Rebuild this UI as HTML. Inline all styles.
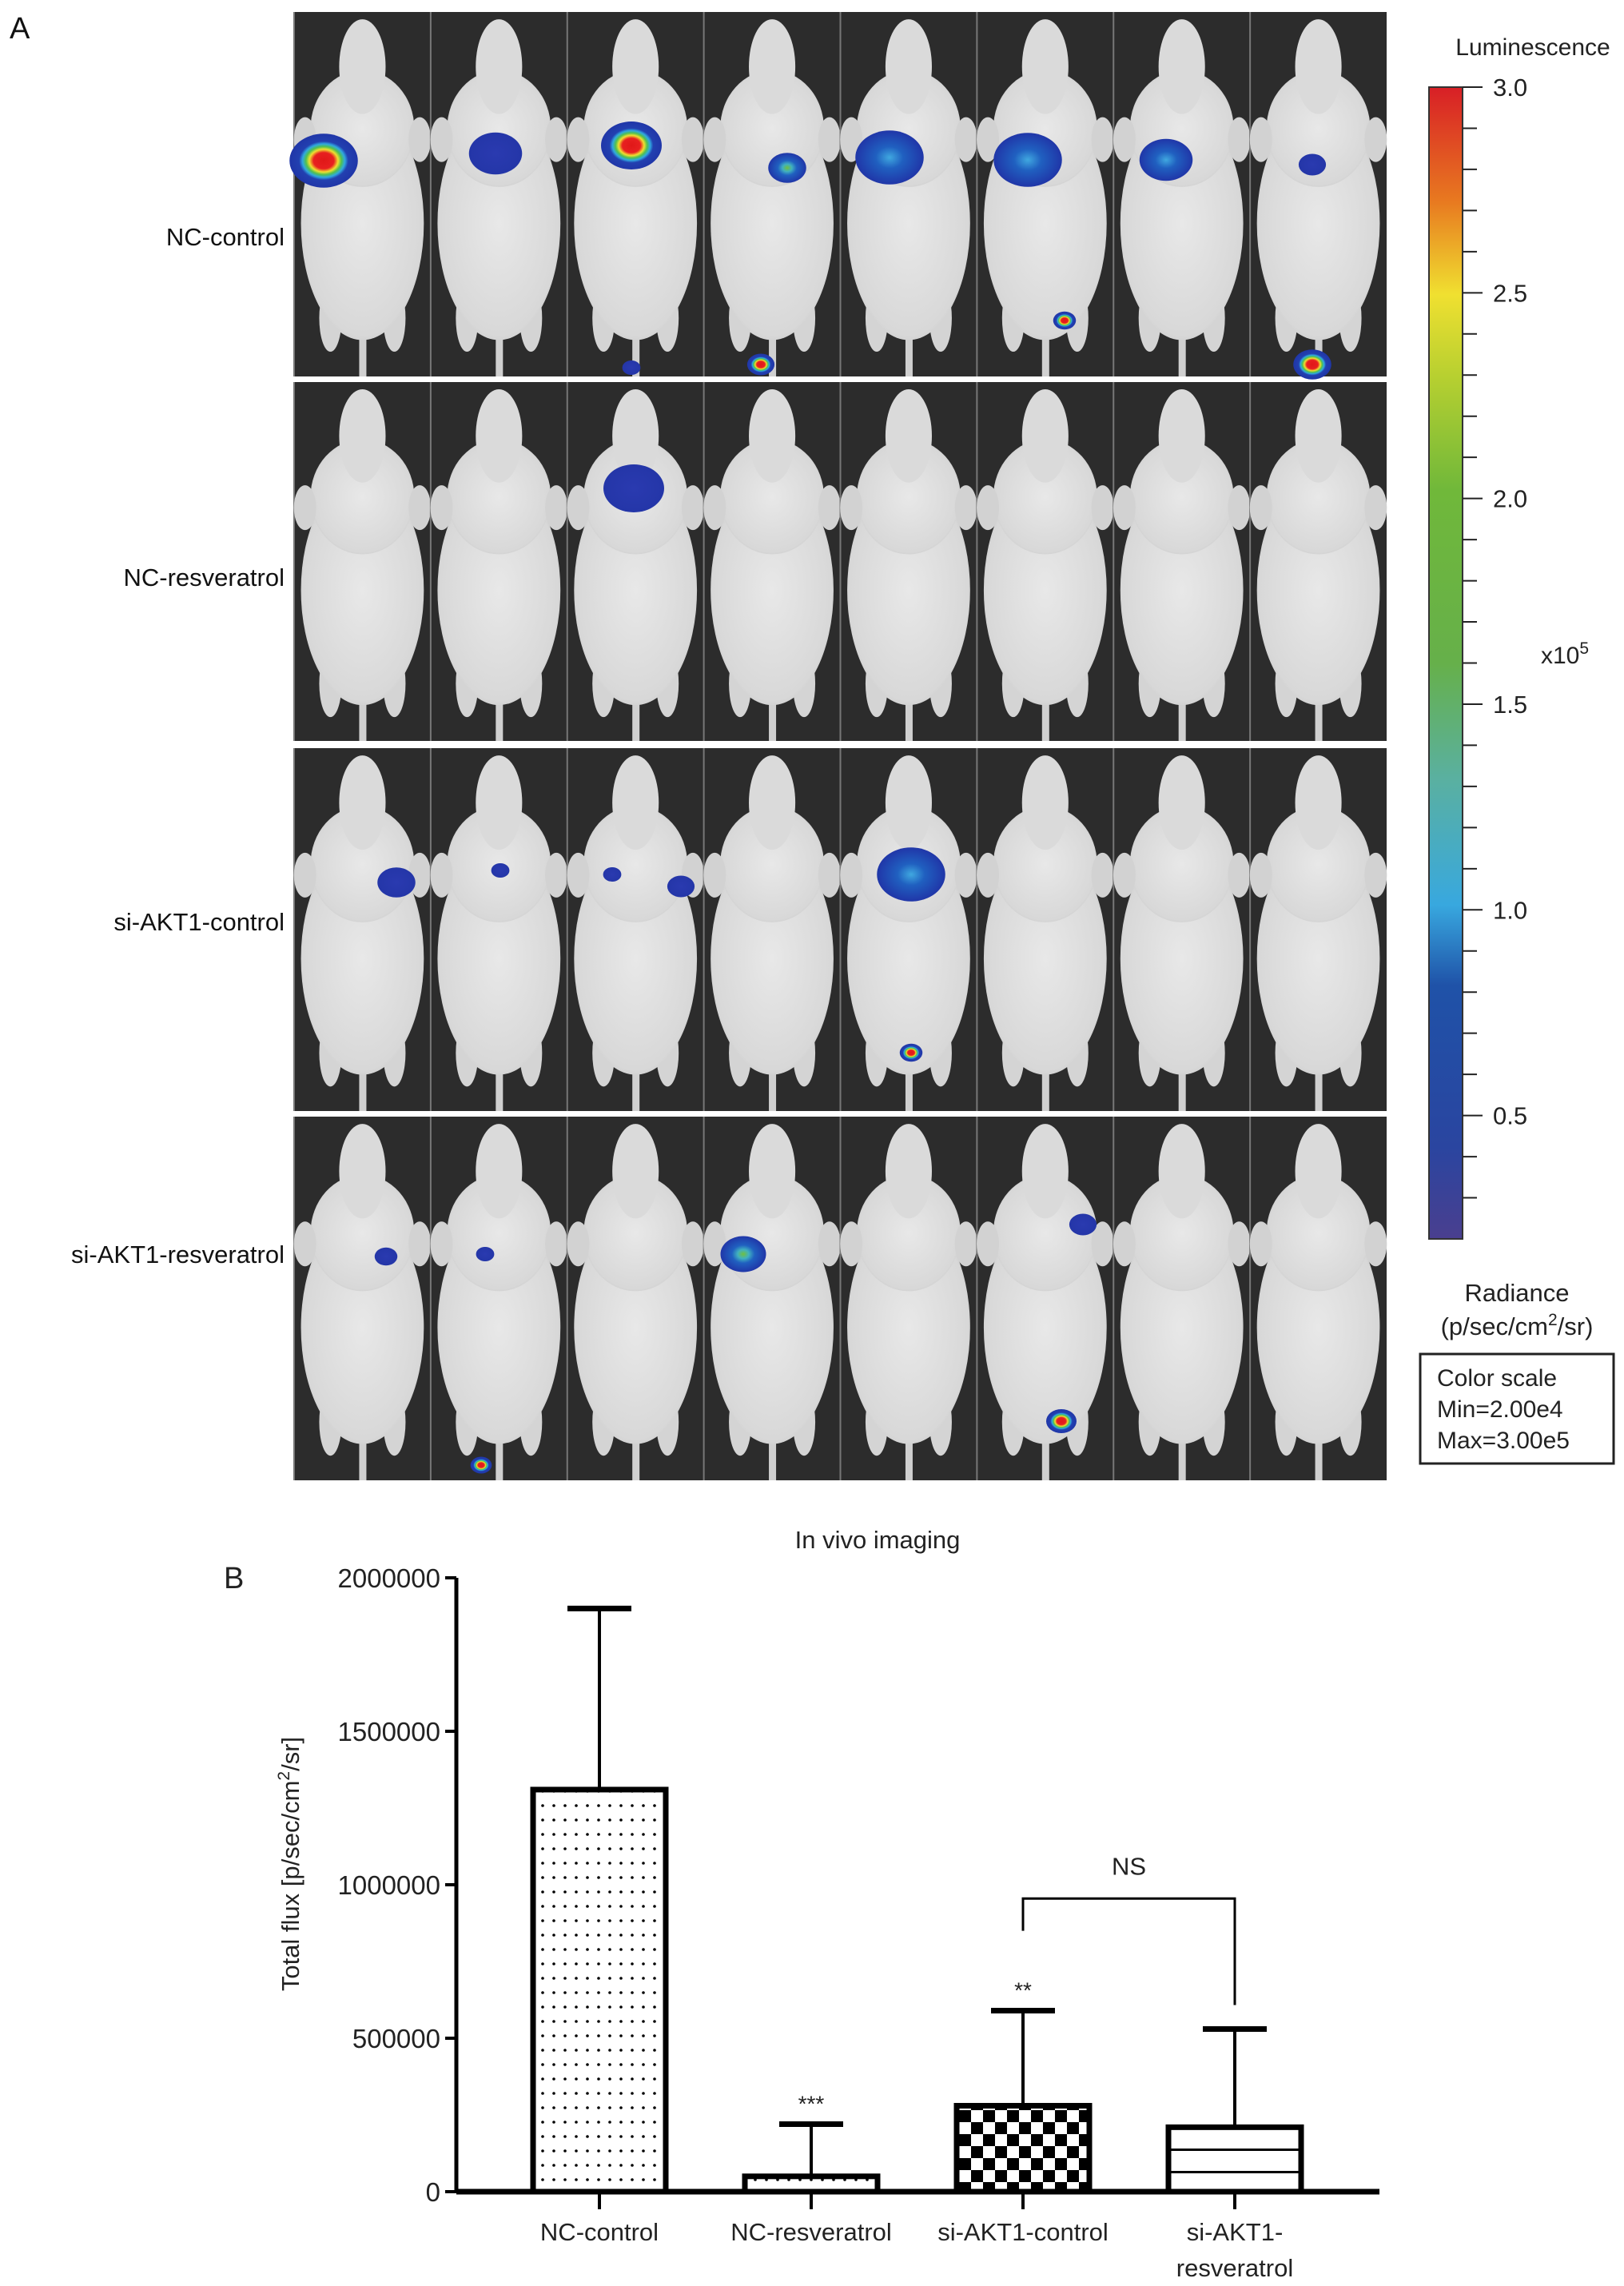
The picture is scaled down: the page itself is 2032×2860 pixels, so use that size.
<!DOCTYPE html>
<html><head><meta charset="utf-8">
<style>
html,body{margin:0;padding:0;background:#fff;}
body{width:2032px;height:2860px;position:relative;overflow:hidden;font-family:"Liberation Sans",sans-serif;}
svg{position:absolute;left:0;top:0;}
</style></head>
<body>
<svg id="fig" width="2032" height="2860" viewBox="0 0 2032 2860" xmlns="http://www.w3.org/2000/svg">
<defs>
<linearGradient id="cbar" x1="0" y1="1" x2="0" y2="0">
<stop offset="0" stop-color="#4a3f8f"/><stop offset="0.08" stop-color="#2a45a0"/>
<stop offset="0.22" stop-color="#1f52a8"/><stop offset="0.29" stop-color="#38a8df"/>
<stop offset="0.4" stop-color="#5ab0a0"/><stop offset="0.5" stop-color="#66b04a"/>
<stop offset="0.65" stop-color="#70b83a"/><stop offset="0.75" stop-color="#b8d030"/>
<stop offset="0.82" stop-color="#f0e030"/><stop offset="0.9" stop-color="#e87a20"/>
<stop offset="1" stop-color="#d81f26"/>
</linearGradient>
<radialGradient id="hot"><stop offset="0" stop-color="#e01818"/><stop offset="0.3" stop-color="#e82020"/><stop offset="0.42" stop-color="#f0e030"/><stop offset="0.52" stop-color="#50c050"/><stop offset="0.62" stop-color="#30a8e0"/><stop offset="0.72" stop-color="#2240b0"/><stop offset="1" stop-color="#2036a8"/></radialGradient>
<radialGradient id="green"><stop offset="0" stop-color="#70c040"/><stop offset="0.25" stop-color="#40b0c0"/><stop offset="0.5" stop-color="#2060c0"/><stop offset="1" stop-color="#2036a8"/></radialGradient>
<radialGradient id="cyan"><stop offset="0" stop-color="#40a8e0"/><stop offset="0.4" stop-color="#2060c0"/><stop offset="1" stop-color="#2036a8"/></radialGradient>
<radialGradient id="blue"><stop offset="0" stop-color="#2a3ab0"/><stop offset="1" stop-color="#2436a8"/></radialGradient>
<radialGradient id="skin" cx="0.5" cy="0.5" r="0.6"><stop offset="0" stop-color="#e8e8e8"/><stop offset="0.8" stop-color="#d8d8d8"/><stop offset="1" stop-color="#bcbcbc"/></radialGradient>
<pattern id="pDots" width="14" height="18" patternUnits="userSpaceOnUse"><rect width="14" height="18" fill="#fff"/><circle cx="7" cy="9" r="1.8" fill="#000"/></pattern>
<pattern id="pChk" width="30" height="30" patternUnits="userSpaceOnUse"><rect width="30" height="30" fill="#fff"/><rect width="15" height="15" fill="#000"/><rect x="15" y="15" width="15" height="15" fill="#000"/></pattern>
<pattern id="pLines" width="20" height="28" patternUnits="userSpaceOnUse"><rect width="20" height="28" fill="#fff"/><rect y="0" width="20" height="3" fill="#000"/></pattern>
</defs>
<g id="panelA"></g>
<g id="colorbar"></g>
<g id="chart"></g>
</svg>
<script>
// ---------- Panel A (images) ----------
const groups = ["NC-control","NC-resveratrol","si-AKT1-control","si-AKT1-resveratrol"];
const rowTops = [15, 478, 936, 1397];
const rowBottoms = [471, 927, 1390, 1852];
const labelY = [296, 722, 1153, 1569];
const blobX = [405,620,790,985,1113,1286,1459,1642,790,952,1332,1642,793,496,626,766,852,1140,1140,483,607,930,1355,602,1328];
const blobY = [201,192,182,210,197,200,200,206,460,456,401,456,611,1104,1089,1094,1109,1094,1317,1572,1569,1569,1532,1833,1778];
const blobR = [45,35,40,25,45,45,35,18,12,18,15,25,40,25,12,12,18,45,15,15,12,30,18,14,20];
const blobT = ["hot","blue","hot","green","cyan","cyan","cyan","blue","blue","hot","hot","hot","blue","blue","blue","blue","blue","cyan","hot","blue","blue","green","blue","hot","hot"];
const NS="http://www.w3.org/2000/svg";
function mk(tag, attrs, parent){const e=document.createElementNS(NS,tag);for(const k in attrs)e.setAttribute(k,attrs[k]);parent.appendChild(e);return e;}
const A=document.getElementById('panelA');
const L=368,R=1735,cellW=(R-L)/8;
groups.forEach((g,ri)=>{
  const t=rowTops[ri],b=rowBottoms[ri],h=b-t;
  const bg=mk('rect',{x:L,y:t,width:R-L,height:h,fill:'#2c2c2c'},A);
  
  
  for(let c=0;c<8;c++){
    const cx=L+cellW*(c+0.5);
    const m=mk('g',{},A);
    
    
    mk('line',{x1:L+cellW*c,y1:t,x2:L+cellW*c,y2:b,stroke:'#777','stroke-width':2},m);
    mk('rect',{x:cx-4,y:t+h*0.8,width:9,height:h*0.2,fill:'#d0d0d0'},m);
    mk('ellipse',{cx:cx-40,cy:t+h*0.84,rx:14,ry:42,fill:'#d4d4d4'},m);
    mk('ellipse',{cx:cx+40,cy:t+h*0.84,rx:14,ry:42,fill:'#d4d4d4'},m);
    mk('ellipse',{cx:cx,cy:t+h*0.58,rx:cellW*0.45,ry:h*0.32,fill:'url(#skin)'},m);
    mk('ellipse',{cx:cx,cy:t+h*0.32,rx:cellW*0.38,ry:h*0.16,fill:'url(#skin)'},m);
    mk('ellipse',{cx:cx,cy:t+h*0.15,rx:cellW*0.17,ry:h*0.13,fill:'#dadada'},m);
    mk('ellipse',{cx:cx-cellW*0.42,cy:t+h*0.35,rx:14,ry:28,fill:'#d2d2d2'},m);
    mk('ellipse',{cx:cx+cellW*0.42,cy:t+h*0.35,rx:14,ry:28,fill:'#d2d2d2'},m);
  }
  const lab=mk('text',{x:356,y:labelY[ri]+11,'text-anchor':'end','font-size':31,fill:'#111'},A);
  lab.textContent=g;
  
  
  if(ri>0){mk('rect',{x:L,y:rowBottoms[ri-1],width:R-L,height:t-rowBottoms[ri-1],fill:'#fff'},A);}
});
blobX.forEach((x,i)=>{
  const bl=mk('ellipse',{cx:x,cy:blobY[i],rx:blobR[i]*0.95,ry:blobR[i]*0.75,fill:'url(#'+blobT[i]+')'},A);
  
  
});
const lA=mk('text',{x:12,y:48,'font-size':38,fill:'#111'},A);lA.textContent='A';



// ---------- Colorbar ----------
const cbTicks=["0.5","1.0","1.5","2.0","2.5","3.0"];
const cbVals=[0.5,1.0,1.5,2.0,2.5,3.0];
const CB=document.getElementById('colorbar');
const cbTop=109,cbBot=1550,cbMin=0.2,cbMax=3.0;
const cy=v=>cbBot-(v-cbMin)/(cbMax-cbMin)*(cbBot-cbTop);
const cbr=mk('rect',{x:1788,y:cbTop,width:42,height:cbBot-cbTop,fill:'url(#cbar)',stroke:'#333','stroke-width':2},CB);


for(let v=0.3;v<=3.001;v+=0.1){const major=Math.abs(v*2-Math.round(v*2))<0.01;mk('line',{x1:1830,x2:major?1855:1848,y1:cy(v),y2:cy(v),stroke:'#222','stroke-width':2},CB);}
cbVals.forEach((v,i)=>{const t=mk('text',{x:1868,y:cy(v)+11,'font-size':31,fill:'#222'},CB);t.textContent=cbTicks[i];

});
function txt(x,y,s,size,anchor,name,parent){const t=mk('text',{x:x,y:y,'font-size':size,'text-anchor':anchor||'start',fill:'#222'},parent);t.innerHTML=s;

return t;}
txt(1918,69,'Luminescence',30,'middle','colorbar-title',CB);
txt(1928,830,'x10<tspan dy="-12" font-size="21">5</tspan>',30,'start','colorbar-exponent',CB);
txt(1898,1628,'Radiance',31,'middle','radiance-label',CB);
txt(1898,1670,'(p/sec/cm<tspan dy="-12" font-size="21">2</tspan><tspan dy="12">/sr)</tspan>',31,'middle','radiance-units',CB);
const bx=mk('rect',{x:1777,y:1694,width:242,height:137,fill:'none',stroke:'#222','stroke-width':3},CB);


txt(1798,1734,'Color scale',30,'start','color-scale-title',CB);
txt(1798,1773,'Min=2.00e4',30,'start','color-scale-min',CB);
txt(1798,1812,'Max=3.00e5',30,'start','color-scale-max',CB);

// ---------- Bar chart ----------
const categories=["NC-control","NC-resveratrol","si-AKT1-control","si-AKT1-resveratrol"];
const means=[1310000,50000,280000,210000];
const errTop=[1900000,220000,590000,530000];
const sigMarks=["","***","**",""];
const yTicks=[0,500000,1000000,1500000,2000000];
const yTickLabels=["0","500000","1000000","1500000","2000000"];
const bracketY=955000, bracketLeftEnd=850000, bracketRightEnd=608000;
const C=document.getElementById('chart');
const x0=571,xEnd=1726,yBase=2742,yTopPx=1974,yMax=2000000;
const yS=v=>yBase-v/yMax*(yBase-yTopPx);
const xC=i=>750+265*i;
const bw=166;
const fills=["url(#pDots)","url(#pDots)","url(#pChk)","url(#pLines)"];
const ax=mk('line',{x1:x0,y1:yTopPx,x2:x0,y2:yBase,stroke:'#000','stroke-width':5},C);


const xa=mk('line',{x1:x0,y1:yBase,x2:xEnd,y2:yBase,stroke:'#000','stroke-width':7},C);


yTicks.forEach((v,i)=>{mk('line',{x1:x0-14,x2:x0,y1:yS(v),y2:yS(v),stroke:'#000','stroke-width':4},C);
txt(x0-20,yS(v)+12,yTickLabels[i],33,'end','y-tick-label',C);});
categories.forEach((c,i)=>{
  const xc=xC(i);
  const e=mk('line',{x1:xc,x2:xc,y1:yS(errTop[i]),y2:yS(means[i]),stroke:'#000','stroke-width':4},C);
  
  
  mk('line',{x1:xc-40,x2:xc+40,y1:yS(errTop[i]),y2:yS(errTop[i]),stroke:'#000','stroke-width':7},C);
  const b=mk('rect',{x:xc-bw/2,y:yS(means[i]),width:bw,height:yBase-yS(means[i]),fill:fills[i],stroke:'#000','stroke-width':7},C);
  
  
  mk('line',{x1:xc,x2:xc,y1:yBase,y2:yBase+22,stroke:'#000','stroke-width':4},C);
  if(sigMarks[i]) txt(xc,yS(errTop[i])-16,sigMarks[i],28,'middle','significance-mark',C);
});
txt(xC(0),2803,'NC-control',31,'middle','x-tick-label',C);
txt(xC(1),2803,'NC-resveratrol',31,'middle','x-tick-label',C);
txt(xC(2),2803,'si-AKT1-control',31,'middle','x-tick-label',C);
txt(xC(3),2803,'si-AKT1-',31,'middle','x-tick-label',C);
txt(xC(3),2848,'resveratrol',31,'middle','x-tick-label',C);
const br=mk('path',{d:`M${xC(2)},${yS(bracketLeftEnd)} V${yS(bracketY)} H${xC(3)} V${yS(bracketRightEnd)}`,fill:'none',stroke:'#000','stroke-width':3},C);


txt((xC(2)+xC(3))/2,yS(bracketY)-30,'NS',31,'middle','ns-label',C);
txt(1098,1937,'In vivo imaging',31,'middle','chart-title',C);
txt(280,1987,'B',38,'start','panel-b-label',C);
const yt=txt(0,0,'Total flux [p/sec/cm<tspan dy="-12" font-size="21">2</tspan><tspan dy="12">/sr]</tspan>',31,'middle','y-axis-title',C);
yt.setAttribute('transform','translate(374,2332) rotate(-90)');
</script>
</body></html>
